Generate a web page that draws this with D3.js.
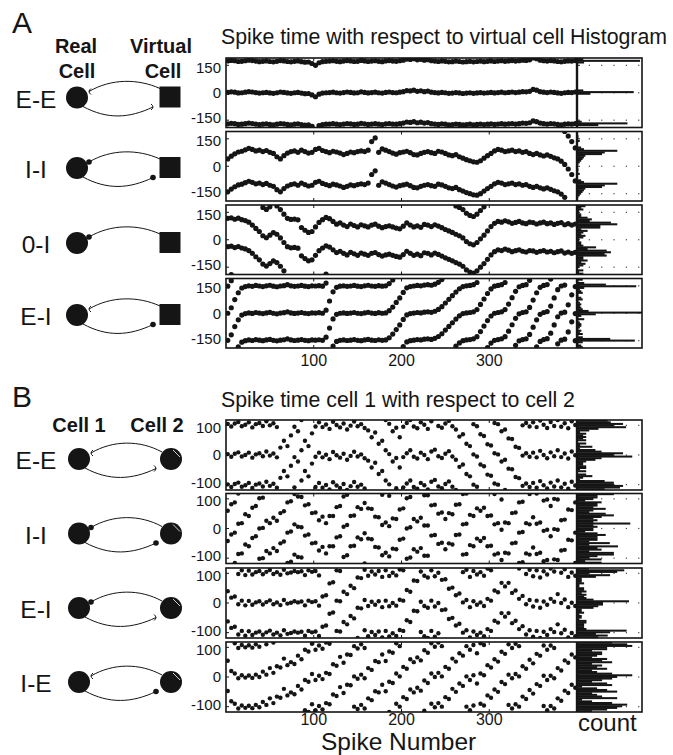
<!DOCTYPE html>
<html><head><meta charset="utf-8">
<script src="https://cdn.jsdelivr.net/npm/d3@7"></script>
<style>
body{margin:0;background:#fff}
svg{display:block;font-family:"Liberation Sans",Arial,Helvetica,sans-serif}
</style>
</head><body>
<svg id="c" width="673" height="755"></svg>
<script>
// ---------------- DATA ----------------
const spikeDomain = [0, 400];
const spikeStart = 2, spikeStep = 4;          // each array entry = one sampled spike
const xTickValues = [100, 200, 300];

const rowLabelsA = ["E-E", "I-I", "0-I", "E-I"];
const topSynA = ["E", "I", "I", "E"];          // synapse onto real cell
const botSynA = ["E", "I", null, "I"];         // synapse onto virtual cell
const rowLabelsB = ["E-E", "I-I", "E-I", "I-E"];
const topSynB = ["E", "I", "I", "E"];
const botSynB = ["E", "I", "E", "I"];

const yTicksA = [-150, 0, 150];
const yTicksB = [-100, 0, 100];
const yLimA = 190, yLimB = 118;
const periodsA = [172, 180, 155, 148];        // wrap period of the phase
const periodsB = [102, 102, 102, 102];

// phase (spike time w.r.t. virtual cell), one value per sampled spike
const phaseA1 = [2,5,3,-1,0,3,6,4,1,-2, 0,2,-1,-3,0,4,2,-1,-3,0, 2,-2,-5,-4,-12,-22,-8,-2,0,1,
 3,0,-2,1,4,2,-1,0,5,2, -1,1,3,0,-2,2,4,1,0,3, 6,12,10,14,8,11,6,9,3,1,
 -1,2,0,-3,-2,1,-1,-4,-2,0, -3,-1,1,-2,0,2,-1,1,3,0, 2,4,1,3,6,5,8,18,14,6, 3,1,4,2,-1,-3,0,2,1,4];
const phaseA2 = [40,55,68,78,82,90,98,92,84,88, 80,86,76,70,52,40,58,72,80,84, 76,88,80,72,76,92,98,86,80,74,
 82,78,72,64,70,78,74,80,84,80, 88,135,-25,76,95,88,80,72,66,74, 78,82,74,64,62,70,76,80,74,70,
 82,78,70,62,58,64,52,44,36,30, 24,22,30,44,58,70,84,92,88,80, 84,88,80,84,76,80,70,64,70,62,
 56,62,54,46,40,28,10,-15,-45,-80];
const phaseA3 = [117,120,112,118,110, 105,96,80,62,45, 22,11,25,39,30, 10,-15,-38,-44,-42, -46,67,52,40,45,
 70,95,110,122,115, 100,85,92,80,72,86,78,70,82,76, 70,80,85,74,66,72,76,70,64,60,
 74,92,80,70,76,68,84,80,72,82, 75,66,56,48,40,30,22,10,-10,-22, -28,-15,5,25,48,72,90,100,96,104,
 98,90,95,100,92,88,96,94,86,92, 96,88,92,84,90,94,82,88,80,86];
const phaseA4 = [0,30,75,112,138,146, 150,147,152,149,146,150,153,148,145,149,151,156,150,147,149,152,148,146,150,149,151,148,
 165,215,265,290,296, 298,295,297,300,296,294,298,301,297,295,299,296,298,
 310,330,355,380,410,435,442, 445,448,446,450,452,449,455,
 465,480,500,520,540,560,578,590,594,596,600,612,640,670,700,725,740,744,748,760,790,825,860,885,892,896,
 920,960,1000,1030,1040,1045,1075,1120,1165,1185,1190,1230,1285,1330];

// phase of cell 1 spikes with respect to cell 2
const phaseB1 = [3,-6,4,9,-5,0,8,-9,2,6,-4,12,-2,5,-8, 25,48,30,66,95,80,118,150,132,175,
 198,212,196,205,190,214,203,195,208,188,201,215,199,206,193, 185,162,178,140,150,118,105,80,92,60,
 95,108,118,96,90,110,102,88,114,120,98,92,106,115,97,
 86,62,70,38,30,2,-5,-32,-38,-66,-70,-96,-100,-124,-118,-148,-150,-176,-180,-206,
 -198,-210,-196,-212,-190,-204,-215,-195,-208,-188,-211,-199,-216,-192,-205];
const phaseB2 = [60,82,88,118,120,150,144,172,178,204, 206,230,222,240,230,256,262,292,296,320,
 312,310,282,286,256,258,232,244,222,246, 246,276,280,312,318,348,350,378,372,392,
 374,372,346,344,318,326,314,340,338,370, 374,408,412,440,432,444,418,418,384,386,
 356,360,338,358,354,386,388,422,424,454, 450,476,468,478,450,452,422,426,404,428,
 426,460,462,496,498,528,524,548,526,530, 502,506,484,508,506,538,540,574,572,598];
const phaseB3 = [40,18,22,-4,8,-8,7,-6,2,6, -5,3,9,-4,2,-7,10,-2,1,6, 2,5,-8,8,3,6,-9,22,26,66,
 70,110,108,140,132,160,152,188,186,214, 194,208,198,210,190,212,193,204,195,215,
 212,248,242,280,278,310,296,290,314,294, 306,282,284,252,256,230,236,206,214,190,
 210,198,206,194,218,212,246,240,272,260, 272,238,246,218,228,200,214,192,212,188,
 209,198,218,208,234,204,216,190,205,194];
const phaseB4 = [55,20,12,-4,6,-2,5,-3,8,0, 18,8,30,14,36,32,62,40,50,44, 72,60,92,86,112,92,106,95,116,112,
 145,140,170,150,178,176,206,198,212,200, 234,228,258,254,280,258,290,286,318,308,
 340,334,366,356,372,362,396,388,420,408, 422,410,442,436,470,460,488,480,512,500,
 516,488,522,516,550,542,570,562,595,588, 620,608,622,614,648,640,670,658,690,684,
 718,704,718,710,744,736,770,762,790,780];

const phasesA = [phaseA1, phaseA2, phaseA3, phaseA4];
const phasesB = [phaseB1, phaseB2, phaseB3, phaseB4];
const histReachA = [0.97, 0.62, 0.62, 1.0];   // fraction of histogram width reached by the tallest bin
const histReachB = [0.85, 0.82, 0.8, 0.85];

// ---------------- LAYOUT ----------------
const svg = d3.select("#c");
const X0 = 226, X1 = 577, HX1 = 642;
const topsA = [58, 131.5, 205, 278.5], hA = 69.5;
const topsB = [420, 493.5, 568, 642], hB = 70;
const x = d3.scaleLinear().domain(spikeDomain).range([X0, X1]);
const ink = "#151515";

function txt(s, tx, ty, size, opts = {}) {
  return svg.append("text").attr("x", tx).attr("y", ty).attr("font-size", size)
    .attr("fill", ink).attr("text-anchor", opts.anchor || "start")
    .attr("font-weight", opts.bold ? "bold" : "normal").text(s);
}

let clipId = 0;
function panel(top, h, phases, period, yLim, ticks, reach, r, binW) {
  const y = d3.scaleLinear().domain([-yLim, yLim]).range([top + h, top]);
  const id = "clip" + (clipId++);
  svg.append("clipPath").attr("id", id).append("rect")
    .attr("x", X0).attr("y", top).attr("width", HX1 - X0).attr("height", h);
  // points with wrapped copies
  const pts = [];
  phases.forEach((v, i) => {
    const s = spikeStart + i * spikeStep;
    const kmin = Math.ceil((-yLim - v) / period), kmax = Math.floor((yLim - v) / period);
    for (let k = kmin; k <= kmax; k++) pts.push([s, v + k * period]);
  });
  svg.append("g").attr("clip-path", `url(#${id})`).selectAll("circle").data(pts).join("circle")
    .attr("cx", d => x(d[0])).attr("cy", d => y(d[1])).attr("r", r).attr("fill", ink);
  // histogram
  const bins = d3.bin().domain([-yLim, yLim]).thresholds(d3.range(-yLim, yLim, binW))(pts.map(d => d[1]));
  const maxC = d3.max(bins, b => b.length);
  const hx = d3.scaleLinear().domain([0, maxC / reach]).range([X1, HX1]).clamp(true);
  // dotted grid
  const gridX = d3.range(1, 6).map(k => X1 + (HX1 - X1) * (k * 0.19));
  ticks.forEach(t => gridX.forEach(gx => svg.append("rect").attr("x", gx - 0.6).attr("y", y(t) - 0.6)
    .attr("width", 1.2).attr("height", 1.2).attr("fill", "#444")));
  svg.append("g").attr("clip-path", `url(#${id})`).selectAll("rect").data(bins.filter(b => b.length > 0)).join("rect")
    .attr("x", X1).attr("y", b => y(b.x1) - 0.2)
    .attr("height", b => y(b.x0) - y(b.x1) + 0.4)
    .attr("width", b => hx(b.length) - X1).attr("fill", ink);
  // frame
  svg.append("rect").attr("x", X0).attr("y", top).attr("width", HX1 - X0).attr("height", h)
    .attr("fill", "none").attr("stroke", ink).attr("stroke-width", 1.6);
  svg.append("line").attr("x1", X1).attr("x2", X1).attr("y1", top).attr("y2", top + h)
    .attr("stroke", ink).attr("stroke-width", 2.4);
  // ticks (top label nudged down, bottom label nudged up so stacked labels do not collide)
  const last = ticks.length - 1;
  ticks.forEach((t, j) => {
    svg.append("line").attr("x1", X0).attr("x2", X0 + 3).attr("y1", y(t)).attr("y2", y(t)).attr("stroke", ink);
    svg.append("line").attr("x1", X1).attr("x2", X1 + 3).attr("y1", y(t)).attr("y2", y(t)).attr("stroke", ink);
    svg.append("text").attr("x", 221).attr("y", y(t))
      .attr("dy", j === 0 ? "0.2em" : (j === last ? "0.5em" : "0.36em")).attr("text-anchor", "end")
      .attr("font-size", 15).attr("fill", ink).text(t);
  });
  xTickValues.forEach(t => {
    svg.append("line").attr("x1", x(t)).attr("x2", x(t)).attr("y1", top).attr("y2", top + 3).attr("stroke", ink);
    svg.append("line").attr("x1", x(t)).attr("x2", x(t)).attr("y1", top + h).attr("y2", top + h - 3).attr("stroke", ink);
  });
}

phasesA.forEach((p, i) => panel(topsA[i], hA, p, periodsA[i], yLimA, yTicksA, histReachA[i], 2.6, 9));
phasesB.forEach((p, i) => panel(topsB[i], hB, p, periodsB[i], yLimB, yTicksB, histReachB[i], 2.2, 5.5));

xTickValues.forEach(t => {
  txt(t, x(t), 366, 16, {anchor: "middle"});
  txt(t, x(t), 725, 16, {anchor: "middle"});
});

// titles
txt("A", 12, 33, 30);
txt("B", 12, 407, 30);
txt("Spike time with respect to virtual cell", 221, 44, 21.3);
txt("Histogram", 570, 44, 21.3);
txt("Spike time cell 1 with respect to cell 2", 221, 407, 21.3);
txt("Spike Number", 321, 750, 24.5);
txt("count", 578, 731, 24);
txt("Real", 76, 53, 20, {anchor: "middle", bold: true});
txt("Cell", 77, 78, 20, {anchor: "middle", bold: true});
txt("Virtual", 161, 53, 20, {anchor: "middle", bold: true});
txt("Cell", 163, 78, 20, {anchor: "middle", bold: true});
txt("Cell 1", 79, 432, 20, {anchor: "middle", bold: true});
txt("Cell 2", 157, 432, 20, {anchor: "middle", bold: true});

// ---------------- NETWORK SCHEMATICS ----------------
const rowYA = [97.5, 168, 243, 315];
const rowYB = [459, 533.5, 608, 682];

function synapse(type, ex, ey, facing) {
  if (type === "I") {
    svg.append("circle").attr("cx", ex).attr("cy", ey).attr("r", 2.8).attr("fill", ink);
  } else if (type === "E") {
    const d = facing < 0
      ? `M${ex + 2},${ey - 3} Q${ex - 2},${ey} ${ex + 2},${ey + 3}`
      : `M${ex - 2},${ey - 3} Q${ex + 2},${ey} ${ex - 2},${ey + 3}`;
    svg.append("path").attr("d", d).attr("fill", "none").attr("stroke", ink).attr("stroke-width", 1);
  }
}

function network(label, cy, cx1, cx2, square, topSyn, botSyn) {
  txt(label, 36, cy + 10, 24.5, {anchor: "middle"});
  const ux0 = cx1 + 12, uy0 = cy - 6, ux1 = cx2 - (square ? 10 : 9), uy1 = cy - (square ? 9 : 7);
  svg.append("path").attr("d", `M${ux0},${uy0} C${ux0 + 22},${cy - 19} ${ux1 - 22},${cy - 19} ${ux1},${uy1}`)
    .attr("fill", "none").attr("stroke", ink).attr("stroke-width", 1);
  synapse(topSyn, ux0, uy0, -1);
  if (botSyn) {
    const lx0 = cx1 + 6, ly0 = cy + 9, lx1 = cx2 - (square ? 17 : 15), ly1 = cy + 9.5;
    svg.append("path").attr("d", `M${lx0},${ly0} C${lx0 + 24},${cy + 22} ${lx1 - 24},${cy + 21} ${lx1},${ly1}`)
      .attr("fill", "none").attr("stroke", ink).attr("stroke-width", 1);
    synapse(botSyn, lx1, ly1, 1);
  }
  svg.append("circle").attr("cx", cx1).attr("cy", cy).attr("r", 11).attr("fill", ink);
  if (square) {
    svg.append("rect").attr("x", cx2 - 10.5).attr("y", cy - 11).attr("width", 21).attr("height", 21).attr("fill", ink);
  } else {
    svg.append("circle").attr("cx", cx2).attr("cy", cy).attr("r", 11).attr("fill", ink);
    svg.append("line").attr("x1", cx2 + 2).attr("y1", cy - 9).attr("x2", cx2 + 9).attr("y2", cy - 2)
      .attr("stroke", "#fff").attr("stroke-width", 0.8);
  }
}
rowLabelsA.forEach((l, i) => network(l, rowYA[i], 77, 170, true, topSynA[i], botSynA[i]));
rowLabelsB.forEach((l, i) => network(l, rowYB[i], 79, 171, false, topSynB[i], botSynB[i]));
</script>
</body></html>
